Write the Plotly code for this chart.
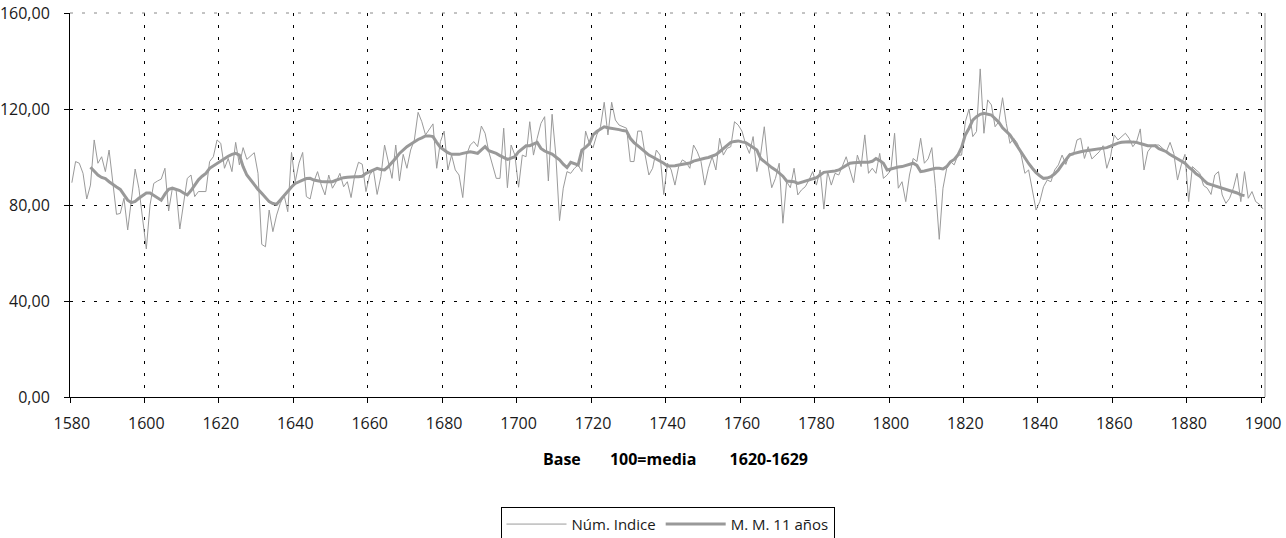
import plotly.graph_objects as go

years = list(range(1580, 1901))

indice = [
    89.3, 98.1, 97.4, 93.2, 82.5, 88.3, 107.1, 97.4, 100.1, 93.9,
    102.9, 89.7, 76.1, 76.5, 82.8, 69.6, 81.4, 95.0, 87.0, 73.0,
    61.7, 80.0, 89.0, 90.0, 90.8, 95.3, 77.5, 87.0, 86.3, 70.0,
    81.4, 91.1, 92.5, 83.5, 85.6, 85.6, 85.6, 98.1, 100.1, 107.1,
    105.7, 95.3, 99.4, 93.9, 106.1, 96.7, 103.9, 99.0, 100.4, 101.8,
    93.2, 63.6, 62.6, 77.9, 68.9, 75.8, 80.7, 84.2, 77.2, 101.9,
    89.7, 97.4, 101.9, 83.5, 82.5, 89.7, 93.9, 88.3, 84.2, 92.5,
    87.0, 89.7, 93.2, 87.6, 89.7, 83.1, 92.5, 97.8, 97.0, 85.6,
    92.5, 94.6, 84.4, 91.8, 105.0, 98.1, 91.1, 105.0, 90.0, 101.1,
    95.3, 102.9, 107.1, 118.6, 114.7, 109.2, 111.3, 113.8, 95.3, 106.4,
    110.8, 94.6, 100.8, 94.6, 92.5, 83.1, 100.8, 105.0, 106.4, 104.3,
    112.9, 109.9, 102.2, 96.7, 91.1, 91.1, 112.0, 87.2, 105.0, 100.8,
    87.4, 100.8, 100.1, 114.7, 100.8, 107.8, 114.0, 116.8, 90.0, 117.8,
    100.8, 73.5, 87.0, 93.9, 93.2, 95.3, 96.7, 93.9, 110.8, 105.7,
    103.9, 109.2, 112.6, 122.8, 109.2, 122.8, 115.4, 113.3, 112.6, 112.0,
    98.1, 98.1, 110.8, 110.8, 100.8, 92.5, 95.3, 102.9, 100.8, 84.4,
    97.4, 94.6, 88.3, 96.0, 98.8, 97.8, 95.3, 105.0, 102.2, 98.1,
    88.3, 95.3, 100.1, 94.6, 107.8, 100.8, 103.6, 104.3, 114.7, 113.3,
    110.8, 105.3, 101.5, 108.5, 93.9, 100.8, 112.6, 96.7, 87.2, 91.1,
    97.4, 72.4, 89.7, 87.2, 95.3, 84.2, 86.3, 87.6, 90.4, 93.9,
    88.3, 94.6, 78.3, 93.9, 88.3, 93.2, 92.5, 96.0, 100.1, 94.6,
    89.3, 100.8, 96.0, 109.2, 93.2, 95.3, 93.2, 101.5, 91.1, 92.5,
    94.6, 109.9, 87.0, 89.7, 81.4, 92.5, 99.4, 98.1, 107.8, 97.4,
    99.2, 103.9, 87.0, 65.7, 87.0, 95.3, 98.1, 96.7, 100.8, 100.8,
    114.7, 120.0, 108.5, 110.6, 136.7, 109.9, 123.8, 121.7, 112.6, 114.7,
    124.7, 114.0, 105.7, 107.8, 105.7, 100.8, 93.2, 94.6, 87.0, 77.9,
    81.4, 87.6, 90.4, 89.7, 94.6, 96.7, 100.8, 96.9, 101.5, 100.8,
    107.1, 107.8, 99.4, 104.3, 99.2, 100.8, 102.2, 104.7, 95.3, 100.1,
    109.2, 107.1, 108.5, 109.9, 107.8, 104.3, 106.4, 111.7, 94.6, 102.2,
    104.3, 105.0, 105.0, 103.6, 102.2, 106.1, 101.5, 90.4, 96.7, 101.1,
    81.4, 96.0, 94.6, 93.2, 88.1, 87.0, 84.4, 92.5, 93.9, 84.2,
    80.7, 82.8, 87.0, 93.2, 81.4, 93.9, 82.8, 85.6, 81.4, 80.3,
    78.3,
]

# 11-year moving average (1585-1895)
media_movil = [None] * 5 + [
    95.7, 94.0, 92.5, 91.5, 91.0,
    89.7, 88.5, 87.5, 86.5, 84.5, 82.0, 81.0, 81.5, 82.8, 84.0,
    85.0, 85.0, 84.0, 83.0, 82.0, 84.5, 86.5, 87.0, 86.5, 86.0,
    85.0, 84.2, 86.0, 88.3, 90.5, 92.0, 93.2, 95.3, 96.3, 97.4,
    98.5, 99.4, 100.3, 101.1, 101.5, 100.8, 96.0, 92.5, 90.5, 88.3,
    86.5, 84.9, 83.0, 81.4, 80.6, 80.3, 82.1, 84.0, 85.6, 87.5,
    89.0, 89.8, 90.4, 91.0, 91.1, 90.4, 90.0, 89.8, 89.7, 89.7,
    89.7, 90.4, 91.0, 91.4, 91.6, 91.8, 91.8, 91.8, 92.0, 93.2,
    93.9, 94.6, 95.3, 94.8, 94.6, 96.0, 97.6, 99.5, 101.5, 103.0,
    104.3, 105.3, 106.4, 107.3, 108.0, 108.8, 108.8, 108.5, 106.1, 104.0,
    102.9, 101.8, 101.1, 101.1, 101.1, 101.5, 102.0, 102.2, 101.9, 101.5,
    103.0, 104.3, 102.6, 102.2, 101.5, 100.6, 99.8, 99.0, 99.5, 100.1,
    102.2, 103.5, 104.7, 104.7, 105.4, 106.1, 103.6, 102.5, 101.8, 101.2,
    100.0, 98.8, 97.0, 95.6, 97.8, 97.2, 96.7, 102.9, 104.0, 105.5,
    109.2, 110.6, 111.6, 112.6, 112.2, 112.0, 111.7, 111.4, 111.0, 110.8,
    107.8, 106.0, 104.7, 103.5, 102.2, 100.8, 100.0, 99.2, 98.5, 97.4,
    96.3, 96.2, 96.4, 96.7, 96.9, 97.2, 97.5, 98.3, 98.8, 99.2,
    99.5, 99.8, 100.5, 101.0, 102.2, 103.5, 104.7, 106.1, 106.5, 106.7,
    106.3, 106.0, 105.0, 104.0, 102.9, 99.4, 98.0, 96.7, 95.6, 94.6,
    93.2, 92.0, 90.0, 89.8, 89.7, 89.0, 89.5, 90.0, 90.4, 90.8,
    91.4, 92.5, 93.6, 93.8, 93.9, 94.2, 94.6, 95.6, 96.5, 97.4,
    97.6, 97.8, 97.8, 97.8, 97.8, 98.2, 99.4, 98.5, 97.4, 94.6,
    95.0, 95.6, 95.8, 96.0, 96.4, 96.7, 97.4, 96.5, 93.9, 94.2,
    94.6, 95.0, 95.3, 95.3, 95.0, 96.0, 98.0, 99.0, 100.8, 104.0,
    109.2, 112.0, 115.4, 116.8, 117.8, 118.2, 117.9, 117.5, 116.0, 114.5,
    112.2, 110.8, 109.2, 106.8, 104.3, 101.8, 99.4, 97.3, 95.3, 93.5,
    92.2, 91.1, 91.2, 91.8, 93.0, 94.6, 96.8, 98.6, 100.8, 101.4,
    101.9, 102.2, 102.5, 102.7, 102.9, 103.0, 103.3, 103.6, 103.9, 104.5,
    105.3, 105.8, 106.1, 106.4, 106.4, 106.2, 106.1, 105.6, 105.2, 104.7,
    104.7, 104.7, 103.5, 102.9, 102.2, 101.0, 100.1, 99.2, 98.3, 97.4,
    95.8, 94.6, 93.0, 92.0, 90.4, 89.0, 88.5, 88.0, 87.6, 87.2,
    86.7, 86.2, 85.6, 85.0, 84.2, 83.9,
] + [None] * 5

y_ticks = [0, 40, 80, 120, 160]
x_title = "Base\u00a0\u00a0\u00a0\u00a0\u00a0\u00a0\u00a0100=media\u00a0\u00a0\u00a0\u00a0\u00a0\u00a0\u00a0\u00a01620-1629"
serie_names = ["Núm. Indice", "M. M. 11 años"]

cats = [str(y) for y in years]
FONT = "Open Sans, Noto Sans, sans-serif"
DASH = "3px,9px"

fig = go.Figure()
fig.add_trace(go.Scatter(x=cats, y=indice, mode="lines", name=serie_names[0],
                         line=dict(color="#9a9a9a", width=1)))
fig.add_trace(go.Scatter(x=cats, y=media_movil, mode="lines", name=serie_names[1],
                         line=dict(color="#999999", width=3), connectgaps=False))

fig.update_layout(
    width=1286, height=538,
    margin=dict(l=70, r=21, t=13, b=141, autoexpand=False),
    paper_bgcolor="white", plot_bgcolor="white",
    separators=", ",
    font=dict(family=FONT, size=16, color="#1a1a1a"),
    showlegend=True,
    legend=dict(orientation="h", x=0.5, xanchor="center", y=-0.286, yanchor="top",
                bordercolor="#000000", borderwidth=1, bgcolor="white",
                font=dict(family=FONT, size=15, color="#1a1a1a"),
                traceorder="normal", itemwidth=60),
    annotations=[dict(text="<b>" + x_title + "</b>", xref="paper", yref="paper",
                      x=0.507, y=-0.161, xanchor="center", yanchor="middle",
                      showarrow=False, font=dict(family=FONT, size=16, color="#000000"))],
    shapes=[
        dict(type="line", xref="paper", yref="paper", x0=1, x1=1, y0=0, y1=1,
             line=dict(color="#999999", width=1)),
        dict(type="line", xref="paper", yref="paper", x0=0, x1=1, y0=1, y1=1,
             line=dict(color="#888888", width=1, dash=DASH)),
    ],
)

fig.update_xaxes(type="category", range=[-0.5, 320.5], tickmode="linear", tick0=0, dtick=20,
                 tickson="boundaries", ticks="outside", ticklen=5, tickcolor="#000000",
                 tickangle=0, automargin=False, ticklabelstandoff=12,
                 showline=True, linecolor="#000000", linewidth=1,
                 showgrid=True, gridcolor="#000000", griddash=DASH, gridwidth=1,
                 tickfont=dict(size=16), zeroline=False)
fig.update_yaxes(range=[0, 160], tickvals=y_ticks, tickformat=".2f", automargin=False,
                 ticks="outside", ticklen=5, tickcolor="#000000", ticklabelstandoff=11,
                 ticklabeloverflow="allow",
                 showline=True, linecolor="#000000", linewidth=1,
                 showgrid=True, gridcolor="#000000", griddash=DASH, gridwidth=1,
                 tickfont=dict(size=16), zeroline=False)

fig.write_html("out.html", config={"displayModeBar": False},
               post_script="document.body.style.margin='0';")
